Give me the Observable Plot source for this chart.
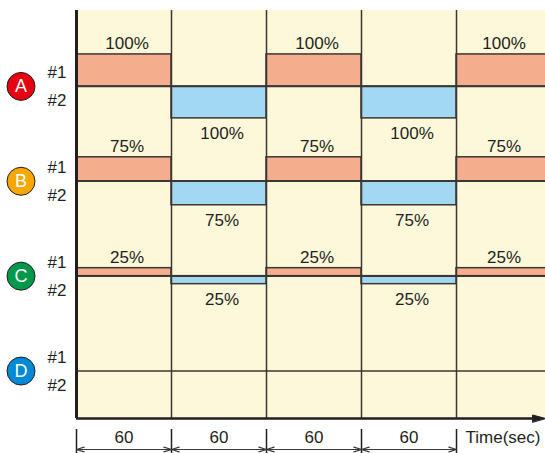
<!DOCTYPE html>
<html><head><meta charset="utf-8">
<script src="https://cdn.jsdelivr.net/npm/d3@7"></script>
<script src="https://cdn.jsdelivr.net/npm/@observablehq/plot@0.6"></script>
<style>body{margin:0;background:#fff}</style>
</head><body><div id="chart"></div>
<script>
// ---- data ----
const groups = ["A", "B", "C", "D"];
const dutyPercent = [100, 75, 25, 0];
const channels = ["#1", "#2"];
const activeChannel = ["#1", "#2", "#1", "#2", "#1"];
const intervalLabels = ["60", "60", "60", "60"];
const segmentSec = 60;
const timeLabel = "Time(sec)";

// ---- layout (domain units) ----
const xMax = 296.2;
const yTop = 4.3, yBottom = -0.369;
const fullBar = 0.337;
const base = i => groups.length - 0.5 - i;
const dark = "#3b3633", ink = "#231f20";

const bars = [];
groups.forEach((g, gi) => {
  activeChannel.forEach((ch, s) => {
    const x1 = s * segmentSec, x2 = (s + 1) * segmentSec;
    const h = dutyPercent[gi] / 100 * fullBar;
    const b = base(gi);
    bars.push({group: g, ch, value: dutyPercent[gi], x1, x2,
      xm: (x1 + Math.min(x2, xMax)) / 2, b, end: ch === "#1" ? b + h : b - h});
  });
});
const shown = bars.filter(d => d.value > 0);
const b1 = shown.filter(d => d.ch === "#1"), b2 = shown.filter(d => d.ch === "#2");

const boundaries = activeChannel.slice(1).map((_, i) => (i + 1) * segmentSec);
const dimTicks = intervalLabels.map((_, i) => i * segmentSec).concat([intervalLabels.length * segmentSec]);
const dimArrows = [];
intervalLabels.forEach((_, i) => {
  const m = i * segmentSec + segmentSec / 2;
  dimArrows.push({xm: m, xe: i * segmentSec});
  dimArrows.push({xm: m, xe: (i + 1) * segmentSec});
});
const chanLabels = [];
groups.forEach((g, gi) => channels.forEach((c, ci) => chanLabels.push({c, b: base(gi), ci})));

const font = "'Liberation Sans', Arial, Helvetica, sans-serif";
const fs = 17;

const chart = Plot.plot({
  width: 545, height: 453,
  marginLeft: 76, marginRight: 0, marginTop: 10, marginBottom: 0,
  x: {domain: [0, xMax], axis: null},
  y: {domain: [yBottom, yTop], axis: null},
  color: {domain: groups, range: ["#e50012", "#f6a800", "#00984a", "#0089d5"]},
  style: {fontFamily: font, fontSize: "17px", background: "white", color: ink},
  marks: [
    Plot.rect([{}], {x1: 0, x2: xMax, y1: 0, y2: yTop, fill: "#fef8da"}),
    Plot.rect(b1, {x1: "x1", x2: "x2", y1: "b", y2: "end", fill: "#f4ae8e", stroke: dark, strokeWidth: 1.5, clip: true}),
    Plot.rect(b2, {x1: "x1", x2: "x2", y1: "b", y2: "end", fill: "#a3d8f2", stroke: dark, strokeWidth: 1.5, clip: true}),
    Plot.ruleX(boundaries, {y1: 0, y2: yTop, stroke: dark, strokeWidth: 1.5}),
    Plot.ruleY(groups.map((g, i) => base(i)), {x1: 0, x2: xMax, stroke: dark, strokeWidth: 1.5}),
    Plot.ruleX([0], {y1: 0, y2: yTop, stroke: ink, strokeWidth: 3}),
    Plot.ruleY([0], {x1: 0, x2: xMax - 5, stroke: ink, strokeWidth: 2.5}),
    Plot.vector([{}], {x: xMax, y: 0, length: 13, rotate: 90, anchor: "end", fill: ink, stroke: ink, strokeWidth: 1,
      shape: {draw(ctx, l) { ctx.moveTo(0, -l); ctx.lineTo(-3.5, 0); ctx.lineTo(3.5, 0); ctx.closePath(); }}}),
    Plot.text(b1, {x: "xm", y: "end", text: d => d.value + "%", lineAnchor: "bottom", dy: -5, dx: 3, fontSize: fs, fill: ink}),
    Plot.text(b2, {x: "xm", y: "end", text: d => d.value + "%", lineAnchor: "top", dy: 9, dx: 3, fontSize: fs, fill: ink}),
    Plot.text(chanLabels, {x: 0, y: "b", text: "c", textAnchor: "end", dx: -10, dy: -14, fontSize: fs, fill: ink,
      filter: d => d.ci === 0}),
    Plot.text(chanLabels, {x: 0, y: "b", text: "c", textAnchor: "end", dx: -10, dy: 14, fontSize: fs, fill: ink,
      filter: d => d.ci === 1}),
    Plot.dot(groups, {x: 0, y: (d, i) => base(i), dx: -55.5, r: 14, fill: d => d, stroke: ink, strokeWidth: 1}),
    Plot.text(groups, {x: 0, y: (d, i) => base(i), dx: -55.5, text: d => d, fill: "white", fontSize: 18}),
    Plot.ruleX(dimTicks, {y1: -0.116, y2: yBottom, stroke: ink, strokeWidth: 1.5}),
    Plot.arrow(dimArrows, {x1: "xm", x2: "xe", y1: -0.327, y2: -0.327, bend: 0, headLength: 10, headAngle: 35, stroke: "#3a3a3a", strokeWidth: 1.2}),
    Plot.text(intervalLabels, {x: (d, i) => i * segmentSec + segmentSec / 2, y: -0.2, text: d => d, fontSize: fs, fill: ink}),
    Plot.text([timeLabel], {x: dimTicks[dimTicks.length - 1], y: -0.2, dx: 9, text: d => d, textAnchor: "start", fontSize: fs, fill: ink})
  ]
});
document.getElementById("chart").appendChild(chart);
</script>
</body></html>
